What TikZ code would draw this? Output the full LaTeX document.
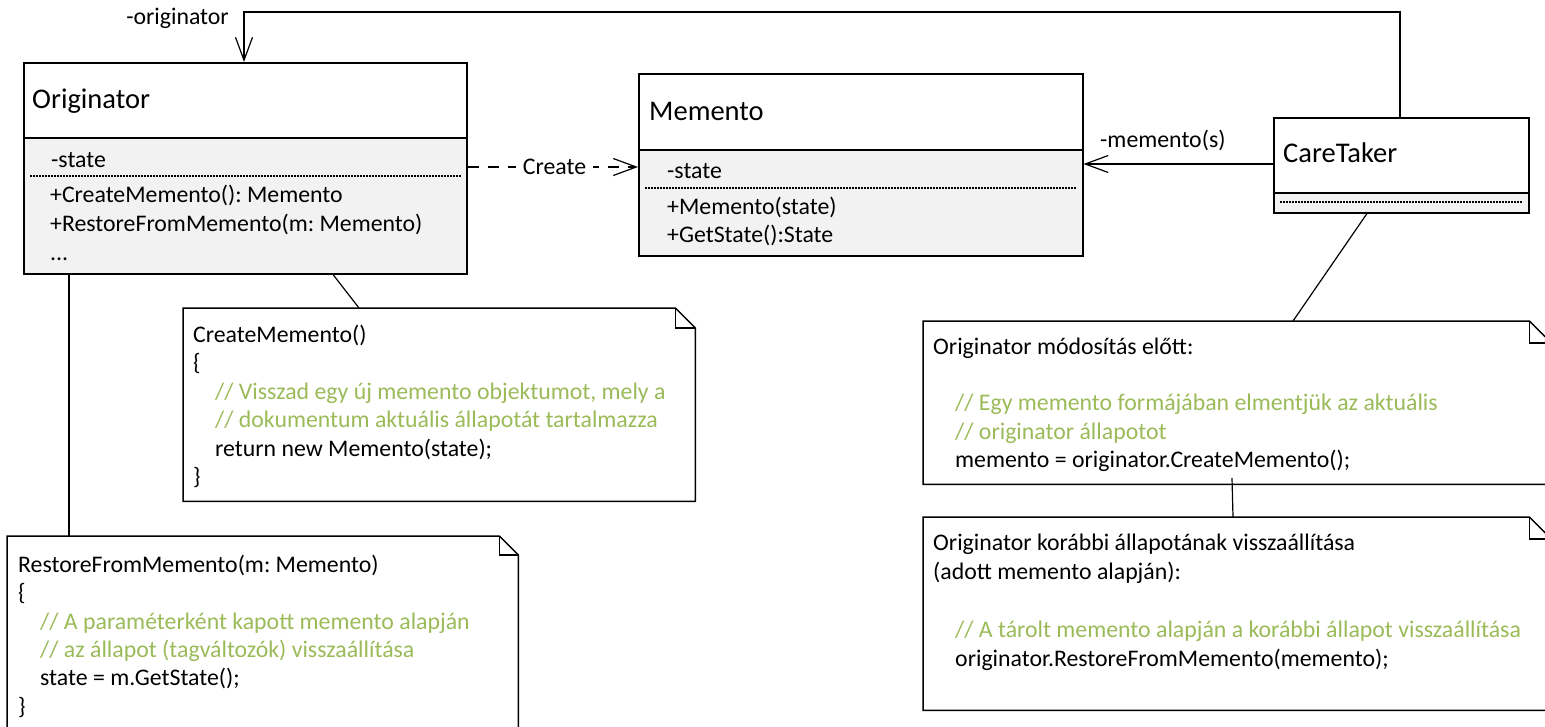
\documentclass[tikz,border=0pt]{standalone}
\usepackage{fontspec}
\setmainfont{Carlito}
\usetikzlibrary{arrows.meta,calc}
\definecolor{codegreen}{RGB}{155,187,89}
\definecolor{compfill}{RGB}{242,242,242}
\tikzset{
  boxline/.style={draw=black, line width=1.5pt},
  classhead/.style={boxline, fill=white, anchor=north west, inner sep=0pt},
  classbody/.style={boxline, fill=compfill, anchor=north west, inner sep=0pt},
  sepline/.style={line width=1.2pt, dash pattern=on 2pt off 1pt},
  txt/.style={anchor=base west, inner sep=0pt, font=\fontsize{23.8}{28}\selectfont},
  ttl/.style={anchor=base west, inner sep=0pt, font=\fontsize{28.5}{34}\selectfont},
  cmt/.style={txt, text=codegreen},
  link/.style={line width=1.2pt},
  assoc/.style={link, -{Straight Barb[length=23pt,width=17pt,line width=1.2pt]}},
  dep/.style={assoc, dash pattern=on 11pt off 9pt},
  notearea/.style={anchor=north west, inner sep=0pt, draw=none},
}
% note outline with a folded top-right corner
\newcommand\drawnote[2]{%
  \draw[boxline, fill=white] (#1.north west) -- ($(#1.north east)+(-#2pt,0pt)$)
    -- ($(#1.north east)+(0pt,-#2pt)$) -- (#1.south east) -- (#1.south west) -- cycle;
  \draw[boxline] ($(#1.north east)+(-#2pt,0pt)$) -- ($(#1.north east)+(-#2pt,-#2pt)$)
    -- ($(#1.north east)+(0pt,-#2pt)$);
}
\frenchspacing
\begin{document}
\frenchspacing
\begin{tikzpicture}[x=1pt, y=-1pt]
\path[use as bounding box] (0,0) rectangle (1545,726);
\clip (0,0) rectangle (1545,726);

% ---- Originator class
\node[classhead, minimum width=443pt, minimum height=75pt] (orighead) at (23,62) {};
\node[classbody, minimum width=443pt, minimum height=136pt] (origbody) at (23,137) {};
\draw[sepline] ($(origbody.north west)+(7pt,-39pt)$) -- ($(origbody.north east)+(-7pt,-39pt)$);
\node[ttl] (origname) at (32,108) {Originator};
\node[txt] (origattr) at (51,167) {-state};
\node[txt] (origop1) at (50,202) {+CreateMemento(): Memento};
\node[txt] (origop2) at (50,231) {+RestoreFromMemento(m: Memento)};
\node[txt] (origop3) at (50,260) {...};

% ---- Memento class
\node[classhead, minimum width=444pt, minimum height=76pt] (memhead) at (638,73) {};
\node[classbody, minimum width=444pt, minimum height=106pt] (membody) at (638,149) {};
\draw[sepline] ($(membody.north west)+(7pt,-39pt)$) -- ($(membody.north east)+(-7pt,-39pt)$);
\node[ttl] (memname) at (649,120) {Memento};
\node[txt] (memattr) at (667,178) {-state};
\node[txt] (memop1) at (667,214) {+Memento(state)};
\node[txt] (memop2) at (667,242) {+GetState():State};

% ---- CareTaker class
\node[classhead, minimum width=255pt, minimum height=75pt] (ctkhead) at (1273,117) {};
\node[classbody, minimum width=255pt, minimum height=20pt] (ctkbody) at (1273,192) {};
\draw[sepline] ($(ctkbody.north west)+(7pt,-10pt)$) -- ($(ctkbody.north east)+(-7pt,-10pt)$);
\node[ttl] (ctkname) at (1283,162) {CareTaker};

% ---- notes
\node[notearea, minimum width=512pt, minimum height=193pt] (cmnote) at (183,308) {};
\drawnote{cmnote}{20}
\node[notearea, minimum width=511pt, minimum height=220pt] (rsnote) at (7,536) {};
\drawnote{rsnote}{19}
\node[notearea, minimum width=628pt, minimum height=163pt] (ctnote1) at (923,321) {};
\drawnote{ctnote1}{22}
\node[notearea, minimum width=628pt, minimum height=193pt] (ctnote2) at (923,517) {};
\drawnote{ctnote2}{22}

% note texts
\node[txt] (cm1) at (193,342) {CreateMemento()};
\node[txt] (cm2) at (193,370.5) {\{};
\node[cmt] (cm3) at (215,399) {// Visszad egy új memento objektumot, mely a};
\node[cmt] (cm4) at (215,427.5) {// dokumentum aktuális állapotát tartalmazza};
\node[txt] (cm5) at (215,456) {return new Memento(state);};
\node[txt] (cm6) at (193,484.5) {\}};

\node[txt] (rs1) at (18,572) {RestoreFromMemento(m: Memento)};
\node[txt] (rs2) at (18,600.5) {\{};
\node[cmt] (rs3) at (40,629) {// A paraméterként kapott memento alapján};
\node[cmt] (rs4) at (40,657) {// az állapot (tagváltozók) visszaállítása};
\node[txt] (rs5) at (40,685.5) {state = m.GetState();};
\node[txt] (rs6) at (18,714) {\}};

\node[txt] (ct11) at (933,354) {Originator módosítás előtt:};
\node[cmt] (ct12) at (955,410.5) {// Egy memento formájában elmentjük az aktuális};
\node[cmt] (ct13) at (955,439) {// originator állapotot};
\node[txt] (ct14) at (955,467.5) {memento = originator.CreateMemento();};

\node[txt] (ct21) at (933,550) {Originator korábbi állapotának visszaállítása};
\node[txt] (ct22) at (933,579) {(adott memento alapján):};
\node[cmt] (ct23) at (955,637) {// A tárolt memento alapján a korábbi állapot visszaállítása};
\node[txt] (ct24) at (955,666) {originator.RestoreFromMemento(memento);};

% ---- connectors
\coordinate (ctktop) at ($(ctkhead.north west)+(127pt,0pt)$);
\coordinate (origtop) at ($(orighead.north west)+(221pt,0pt)$);
\draw[assoc] (ctktop) -- (ctktop |- 0,12) -- (origtop |- 0,12) -- (origtop);
\node[txt, anchor=base east] (lblorig) at (229,24) {-originator};

\draw[assoc] (ctkhead.west |- 0,164) -- (membody.east |- 0,164);
\node[txt] (lblmem) at (1100,147) {-memento(s)};

\draw[dep] (origbody.east |- 0,167) -- (membody.west |- 0,167)
  node[pos=0.51, fill=white, inner xsep=7pt, inner ysep=2pt, font=\fontsize{23.8}{28}\selectfont] (lblcreate) {Create};

\draw[link] (origbody.south -| 69,0) -- (rsnote.north -| 69,0);
\draw[link] (origbody.south -| 333,0) -- (cmnote.north -| 359,0);
\draw[link] (ctkbody.south -| 1367,0) -- (ctnote1.north -| 1293,0);
\coordinate (n1tail) at (1232,478);
\draw[link] (n1tail) -- (ctnote2.north -| 1233,0);
\end{tikzpicture}
\end{document}
